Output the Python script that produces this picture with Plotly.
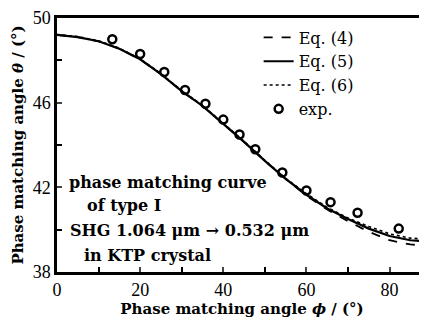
import plotly.graph_objects as go

# Curve data (phase matching angle phi vs theta)
phi_curve = [0, 5, 10, 15, 20, 25, 30, 35, 40, 45, 50, 55, 60, 65, 70, 75, 80, 85, 89]
theta_eq5 = [49.2, 49.1, 48.9, 48.55, 48.05, 47.35, 46.55, 45.85, 45.0, 44.15, 43.25, 42.4, 41.65, 41.0, 40.5, 40.05, 39.7, 39.5, 39.45]
theta_eq4 = [49.2, 49.1, 48.9, 48.55, 48.05, 47.35, 46.55, 45.85, 45.0, 44.15, 43.25, 42.4, 41.6, 40.95, 40.4, 39.9, 39.5, 39.3, 39.25]
theta_eq6 = [49.22, 49.12, 48.92, 48.57, 48.07, 47.37, 46.57, 45.87, 45.02, 44.17, 43.27, 42.42, 41.7, 41.05, 40.55, 40.15, 39.8, 39.6, 39.55]

# Experimental points
phi_exp = [13.3, 20, 25.8, 30.8, 35.7, 40, 43.9, 47.7, 54.2, 60, 65.8, 72.3, 82.2]
theta_exp = [49.0, 48.3, 47.45, 46.6, 45.95, 45.2, 44.5, 43.8, 42.7, 41.85, 41.3, 40.8, 40.05]

x_ticks = [0, 20, 40, 60, 80]
y_ticks = [38, 42, 46, 50]

SERIF = "Liberation Serif"
WIDE = "DejaVu Serif"

fig = go.Figure()
fig.add_trace(go.Scatter(x=phi_curve, y=theta_eq4, mode="lines", name="Eq. (4)",
                         line=dict(color="black", width=1.8, dash="dash")))
fig.add_trace(go.Scatter(x=phi_curve, y=theta_eq5, mode="lines", name="Eq. (5)",
                         line=dict(color="black", width=2.2)))
fig.add_trace(go.Scatter(x=phi_curve, y=theta_eq6, mode="lines", name="Eq. (6)",
                         line=dict(color="black", width=1.6, dash="dot")))
fig.add_trace(go.Scatter(x=phi_exp, y=theta_exp, mode="markers", name="exp.",
                         marker=dict(symbol="circle-open", size=8, color="black",
                                     line=dict(width=2.5, color="black"))))

fig.update_xaxes(range=[0, 89], tickvals=x_ticks, ticks="inside", ticklen=5, tickwidth=2,
                 showline=True, linewidth=2.5, linecolor="black", mirror=True,
                 showgrid=False, zeroline=False, ticklabeloverflow="allow",
                 minor=dict(dtick=10, ticks="inside", ticklen=5, tickwidth=2, tickcolor="black"),
                 tickfont=dict(family=SERIF, size=18, color="black"),
                 title=dict(text="<b>Phase matching angle <i>ϕ</i> / (°)</b>", standoff=0,
                            font=dict(family=WIDE, size=15, color="black")))
fig.update_yaxes(range=[38, 50], tickvals=y_ticks, ticks="inside", ticklen=5, tickwidth=2,
                 showline=True, linewidth=2.5, linecolor="black", mirror=False,
                 showgrid=False, zeroline=False, ticklabeloverflow="allow",
                 minor=dict(dtick=2, ticks="inside", ticklen=5, tickwidth=2, tickcolor="black"),
                 tickfont=dict(family=SERIF, size=18, color="black"),
                 title=dict(text="<b>Phase matching angle <i>θ</i> / (°)</b>", standoff=6,
                            font=dict(family=WIDE, size=15, color="black")))

lines = [("phase matching curve", 67, 181),
         ("of type Ⅰ", 85, 204),
         ("SHG 1.064 μm → 0.532 μm", 68, 230),
         ("in KTP crystal", 82, 255)]
for txt, px, py in lines:
    fig.add_annotation(text="<b>" + txt + "</b>", xref="paper", yref="paper",
                       x=(px - 57) / 370, y=1 - (py - 13) / 259,
                       xanchor="left", yanchor="middle", showarrow=False,
                       font=dict(family=WIDE, size=16, color="black"))

# page body has an 8px default margin; compensate so the plot area lands at x 57..427, y 13..272
fig.update_layout(
    width=419, height=312,
    margin=dict(l=49, r=0, t=5, b=48),
    paper_bgcolor="white", plot_bgcolor="white",
    showlegend=True,
    legend=dict(x=0.545, y=0.99, xanchor="left", yanchor="top",
                bgcolor="rgba(0,0,0,0)", tracegroupgap=0, itemwidth=30,
                font=dict(family=WIDE, size=16, color="black")),
)

fig.write_html("out.html")
